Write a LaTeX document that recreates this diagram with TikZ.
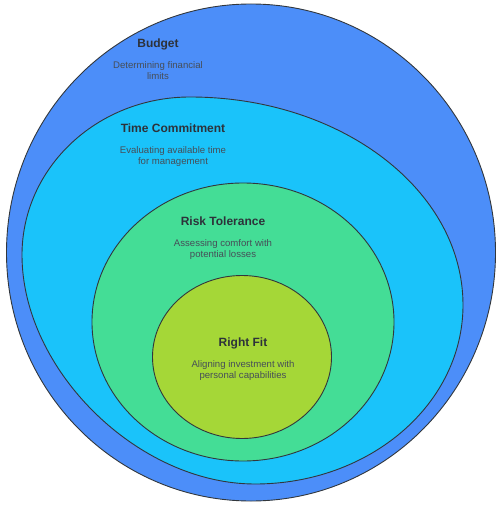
\documentclass[tikz,border=0pt]{standalone}
\usepackage{fontspec}
\setmainfont{Liberation Sans}
\usetikzlibrary{positioning}
\definecolor{budgetBlue}{RGB}{76,142,249}
\definecolor{timeCyan}{RGB}{26,195,250}
\definecolor{riskGreen}{RGB}{68,221,150}
\definecolor{fitLime}{RGB}{165,215,55}
\definecolor{edgeGray}{RGB}{50,55,60}
\definecolor{titleGray}{RGB}{45,50,58}
\definecolor{textGray}{RGB}{70,78,88}
\tikzset{
  ring/.style={draw=edgeGray, line width=0.9pt},
  ringtitle/.style={inner sep=0pt, text height=9pt, text depth=2.5pt, text=titleGray,
                    font=\fontsize{12}{14}\selectfont\bfseries},
  ringtext/.style={inner sep=0pt, text=textGray, align=center,
                   font=\fontsize{9.6}{11.8}\selectfont}
}

\begin{document}
\begin{tikzpicture}[x=1pt, y=-1pt, node distance=11pt]
\useasboundingbox (0,0) rectangle (503,508);
% nested areas, outside in
\draw[ring, fill=budgetBlue] (251,252.5) ellipse [x radius=244.5pt, y radius=248.5pt];
\draw[ring, fill=timeCyan] (190,97)
  .. controls (341,97) and (463,190) .. (463,305)
  .. controls (463,404) and (370,484) .. (255,484)
  .. controls (138,484) and (22,370) .. (22,255)
  .. controls (22,168) and (97,97) .. cycle;
\draw[ring, fill=riskGreen] (243,322) ellipse [x radius=151pt, y radius=139pt];
\draw[ring, fill=fitLime] (242,357) ellipse [x radius=89.5pt, y radius=81.5pt];
% labels
\node[ringtitle] (budget) at (158,44) {Budget};
\node[ringtext, below=of budget] (budgetdesc) {Determining financial\\limits};
\node[ringtitle] (time) at (173,129) {Time Commitment};
\node[ringtext, below=of time] (timedesc) {Evaluating available time\\for management};
\node[ringtitle] (risk) at (223,222) {Risk Tolerance};
\node[ringtext, below=of risk] (riskdesc) {Assessing comfort with\\potential losses};
\node[ringtitle] (fit) at (243,343) {Right Fit};
\node[ringtext, below=of fit] (fitdesc) {Aligning investment with\\personal capabilities};
\end{tikzpicture}
\end{document}
